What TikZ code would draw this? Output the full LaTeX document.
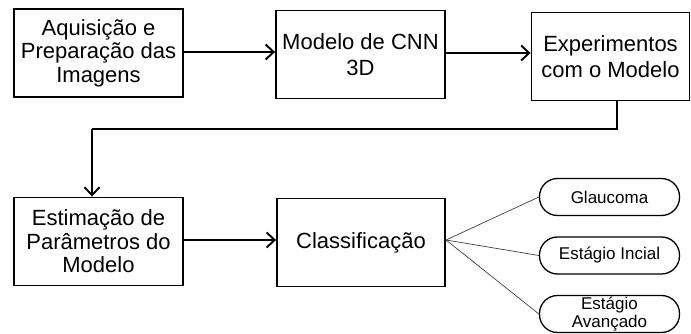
\documentclass[tikz,border=0pt]{standalone}
\usepackage{fontspec}
\setmainfont{Liberation Sans}
\usetikzlibrary{arrows.meta}
\begin{document}
\begin{tikzpicture}[x=1pt,y=-1pt,
  box/.style={draw,line width=1.9pt,minimum width=169pt,minimum height=88pt,align=center,font=\fontsize{22}{23.5}\selectfont,inner sep=0pt},
  boxtwo/.style={box,font=\fontsize{22}{26}\selectfont},
  pill/.style={draw,line width=1.3pt,rounded corners=18pt,minimum width=140pt,minimum height=37pt,align=center,font=\fontsize{17}{18.5}\selectfont,inner sep=0pt},
  arr/.style={line width=1.9pt,-{Straight Barb[length=8pt,width=15pt,line width=1.9pt]}},
  fan/.style={line width=0.7pt,draw=black!75}]
\useasboundingbox (0,0) rectangle (691,334);
\node[box] (a) at (98.5,53) {Aquisição e\\Preparação das\\Imagens};
\node[boxtwo] (b) at (360.5,54.5) {Modelo de CNN\\3D};
\node[boxtwo,minimum width=158pt] (c) at (610.5,56.5) {Experimentos\\com o Modelo};
\node[box] (d) at (98.5,241.5) {Estimação de\\Parâmetros do\\Modelo};
\node[box,minimum width=168pt] (e) at (361,242.5) {Classificação};
\node[pill] (g1) at (609.5,197) {Glaucoma};
\node[pill] (g2) at (609.5,255.5) {Estágio Incial};
\node[pill] (g3) at (609.5,314) {Estágio\\Avançado};
\coordinate (k1) at (617,129);
\coordinate (k2) at (92,129);
\draw[arr] (a.east |- 0,52) -- (b.west |- 0,52);
\draw[arr] (b.east |- 0,53) -- (c.west |- 0,53);
\draw[line width=1.9pt] (c.south -| k1) -- (k1) -- (k2);
\draw[arr] (k2) -- (d.north -| k2);
\draw[arr] (d.east |- 0,240) -- (e.west |- 0,240);
\coordinate (f) at (446,240);
\draw[fan] (f) -- (g1.west);
\draw[fan] (f) -- (g2.west);
\draw[fan] (f) -- (g3.west);
\end{tikzpicture}
\end{document}
